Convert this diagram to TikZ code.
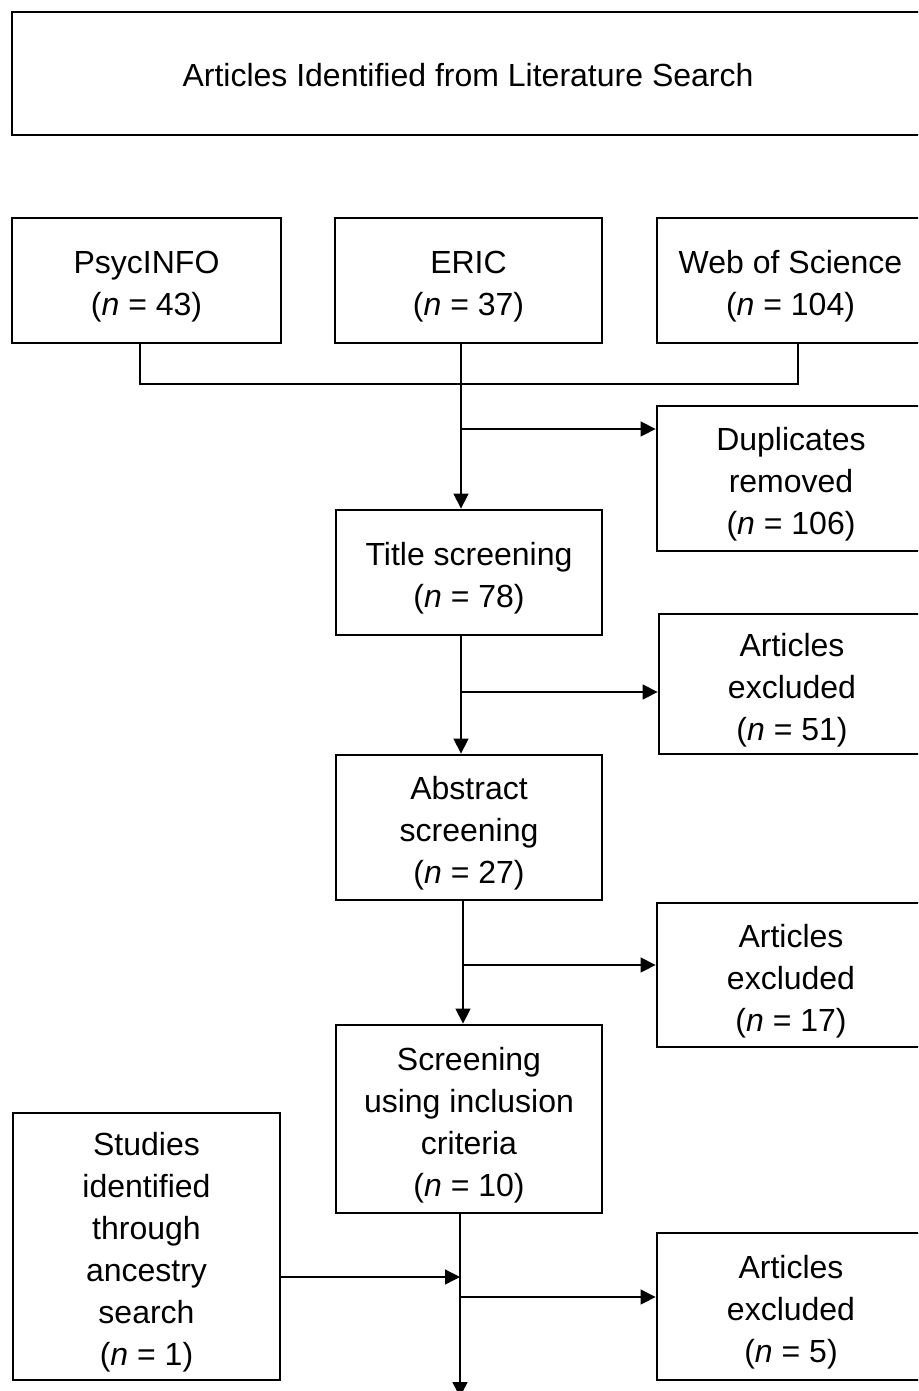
\documentclass[tikz,border=0pt]{standalone}
\usepackage{fontspec}
\setmainfont{Liberation Sans}
\usetikzlibrary{arrows.meta}
\newcommand\tstrut{\rule{0pt}{35pt}}
\begin{document}
\begin{tikzpicture}[x=1pt,y=-1pt,
  box/.style={draw, line width=2.8pt, inner sep=0pt, align=center,
    font=\fontsize{32}{42}\selectfont},
  link/.style={line width=1.3pt},
  arr/.style={link, -{Triangle[length=15pt,width=15pt]}}]
\useasboundingbox (0,0) rectangle (918,1391);
\clip (0,0) rectangle (918,1391);
\fill[white] (0,0) rectangle (918,1391);
% boxes
\node[box, minimum width=912pt, minimum height=123pt] (top) at (468,73.5) {\rule{0pt}{27pt}Articles Identified from Literature Search};
\node[box, minimum width=269pt, minimum height=125pt] (psyc) at (146.5,280.5) {\tstrut PsycINFO\\(\textit{n} = 43)};
\node[box, minimum width=267pt, minimum height=125pt] (eric) at (468.5,280.5) {\tstrut ERIC\\(\textit{n} = 37)};
\node[box, minimum width=267pt, minimum height=125pt] (wos) at (790.5,280.5) {\tstrut Web of Science\\(\textit{n} = 104)};
\node[box, minimum width=268pt, minimum height=145pt] (dup) at (791,478.5) {\tstrut Duplicates\\removed\\(\textit{n} = 106)};
\node[box, minimum width=266pt, minimum height=125pt] (title) at (469,572.5) {\tstrut Title screening\\(\textit{n} = 78)};
\node[box, minimum width=266pt, minimum height=140pt] (exa) at (792,684) {\tstrut Articles\\excluded\\(\textit{n} = 51)};
\node[box, minimum width=266pt, minimum height=145pt] (abs) at (469,827.5) {\tstrut Abstract\\screening\\(\textit{n} = 27)};
\node[box, minimum width=268pt, minimum height=144pt] (exb) at (791,975) {\tstrut Articles\\excluded\\(\textit{n} = 17)};
\node[box, minimum width=266pt, minimum height=188pt] (scr) at (469,1119) {\tstrut Screening\\using inclusion\\criteria\\(\textit{n} = 10)};
\node[box, minimum width=267pt, minimum height=267pt] (stud) at (146.5,1246.5) {\tstrut Studies\\identified\\through\\ancestry\\search\\(\textit{n} = 1)};
\node[box, minimum width=268pt, minimum height=147pt] (exc) at (791,1306.5) {\tstrut Articles\\excluded\\(\textit{n} = 5)};
% helper coordinates
\coordinate (pL) at (140,384);
\coordinate (pR) at (798,384);
\coordinate (join) at (461,384);
\coordinate (b1) at (461,429);
\coordinate (s2) at (461,0);
\coordinate (b2) at (461,692);
\coordinate (s3) at (463,0);
\coordinate (b3) at (463,965);
\coordinate (s4) at (460,0);
\coordinate (m4) at (460,1277);
\coordinate (b4) at (460,1297);
\coordinate (end) at (460,1397);
% connectors
\draw[link] (psyc.south -| pL) |- (join) -| (wos.south -| pR);
\draw[arr] (eric.south -| join) -- (title.north -| join);
\draw[arr] (b1) -- (dup.west |- b1);
\draw[arr] (title.south -| s2) -- (abs.north -| s2);
\draw[arr] (b2) -- (exa.west |- b2);
\draw[arr] (abs.south -| s3) -- (scr.north -| s3);
\draw[arr] (b3) -- (exb.west |- b3);
\draw[arr] (scr.south -| s4) -- (end);
\draw[arr] (stud.east |- m4) -- (m4);
\draw[arr] (b4) -- (exc.west |- b4);
\end{tikzpicture}
\end{document}
